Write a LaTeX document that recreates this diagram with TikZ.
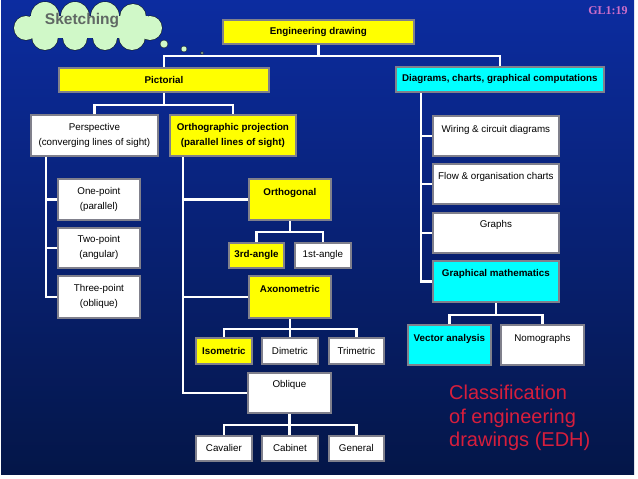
\documentclass[tikz,border=0pt]{standalone}
\usepackage{fontspec}
\setmainfont{Liberation Sans}
\newfontfamily\serifgl{Liberation Serif}
\usetikzlibrary{calc}
\definecolor{bgtop}{RGB}{12,44,160}
\definecolor{bgbot}{RGB}{4,22,72}
\definecolor{boxborder}{RGB}{128,128,140}
\definecolor{ylw}{RGB}{255,255,0}
\definecolor{cyn}{RGB}{0,255,255}
\definecolor{cloudfill}{RGB}{208,248,200}
\definecolor{cloudline}{RGB}{20,30,40}
\definecolor{sktext}{RGB}{96,104,100}
\definecolor{edhred}{RGB}{215,30,60}
\definecolor{glpink}{RGB}{205,110,200}
\pgfdeclarelayer{bg}\pgfdeclarelayer{connlayer}\pgfsetlayers{bg,connlayer,main}
\begin{document}
\begin{tikzpicture}[x=1pt,y=-1pt,
 box/.style={draw=boxborder,line width=1.8pt,anchor=north west,inner sep=0pt,font=\fontsize{9.8}{15}\selectfont,align=center},
 yb/.style={box,fill=ylw,font=\fontsize{9.8}{15}\selectfont\bfseries},
 wb/.style={box,fill=white},
 cb/.style={box,fill=cyn,font=\fontsize{9.8}{15}\selectfont\bfseries},
 sz/.style 2 args={minimum width=#1,minimum height=#2},
 tt/.style 2 args={text height=#1,text depth=#2},
 conn/.style={draw=white,line width=2.5pt},
 bubble/.style={circle,fill=cloudfill,draw=cloudline,line width=0.4pt,inner sep=0pt}]
\useasboundingbox (0,0) rectangle (638,479);
\begin{pgfonlayer}{bg}
\fill[white] (0,0) rectangle (638,479);
\shade[top color=bgtop,bottom color=bgbot] (1,0) rectangle (634,474);
\end{pgfonlayer}

% cloud (union of puffs: outlines first, then fills)
\def\puffs{45/16/14,75/16/14,105/16/14,133/17/13,26/28/12,150/28/12,45/37/13,75/38/12,105/38/12,132/37/13}
\foreach \px/\py/\pr in \puffs {\draw[cloudline,line width=1.1pt] (\px,\py) circle[radius=\pr];}
\foreach \px/\py/\pr in \puffs {\fill[cloudfill] (\px,\py) circle[radius=\pr];}
\fill[cloudfill] (30,16) rectangle (148,38);
\node[font=\fontsize{15.5}{18}\selectfont\bfseries,text=sktext] (sk) at (82,21) {Sketching};
\node[bubble,minimum size=8pt] (b1) at (164,44) {};
\node[bubble,minimum size=6pt] (b2) at (184,49) {};
\node[bubble,minimum size=3pt] (b3) at (202,53) {};

\node[font=\serifgl\bfseries\fontsize{12}{14}\selectfont,text=glpink] (gl) at (608,11) {GL1:19};

% boxes
\node[yb,sz={191pt}{24pt}] (ed) at (222,19) {Engineering drawing};
\node[yb,sz={210pt}{24pt}] (pic) at (58,67) {Pictorial};
\node[cb,sz={208pt}{25pt}] (dia) at (395,66) {Diagrams, charts, graphical computations};
\node[wb,sz={127pt}{41pt}] (persp) at (30,114) {Perspective\\(converging lines of sight)};
\node[yb,sz={126pt}{41pt}] (ortho) at (169,114) {Orthographic projection\\(parallel lines of sight)};
\node[wb,sz={82pt}{41pt}] (one) at (57,178) {One-point\\(parallel)};
\node[wb,sz={82pt}{40pt}] (two) at (57,227) {Two-point\\(angular)};
\node[wb,sz={82pt}{42pt}] (three) at (57,275) {Three-point\\(oblique)};
\node[yb,sz={82pt}{41pt},tt={16.5pt}{24.5pt}] (orthog) at (248,178) {Orthogonal};
\node[yb,sz={82pt}{42pt},tt={16.5pt}{25.5pt}] (axo) at (248,275) {Axonometric};
\node[yb,sz={55pt}{25pt}] (third) at (228,242) {3rd-angle};
\node[wb,sz={56pt}{25pt}] (first) at (294,242) {1st-angle};
\node[yb,sz={56pt}{26pt}] (iso) at (195,337) {Isometric};
\node[wb,sz={56pt}{26pt}] (dim) at (261,337) {Dimetric};
\node[wb,sz={55pt}{26pt}] (tri) at (328,337) {Trimetric};
\node[wb,sz={83pt}{40pt},tt={14.5pt}{25.5pt}] (obl) at (247,372) {Oblique};
\node[wb,sz={56pt}{25pt}] (cav) at (195,435) {Cavalier};
\node[wb,sz={56pt}{25pt}] (cab) at (261,435) {Cabinet};
\node[wb,sz={55pt}{25pt}] (gen) at (328,435) {General};
\node[wb,sz={126pt}{40pt},tt={16.5pt}{23.5pt}] (wir) at (432,115) {Wiring \& circuit diagrams};
\node[wb,sz={126pt}{40pt},tt={15.5pt}{24.5pt}] (flow) at (432,163) {Flow \& organisation charts};
\node[wb,sz={126pt}{40pt},tt={14.5pt}{25.5pt}] (graphs) at (432,212) {Graphs};
\node[cb,sz={126pt}{41pt},tt={15.5pt}{25.5pt}] (gm) at (432,260) {Graphical mathematics};
\node[cb,sz={83pt}{40pt},tt={16.5pt}{23.5pt}] (vec) at (407,324) {Vector analysis};
\node[wb,sz={83pt}{40pt},tt={16.5pt}{23.5pt}] (nomo) at (500,324) {Nomographs};

\node[anchor=north west,inner sep=0pt,align=left,text=edhred,font=\fontsize{20}{23.5}\selectfont] (cls) at (449,385) {Classification\\of engineering\\drawings (EDH)};

% connectors
\begin{pgfonlayer}{connlayer}
\draw[conn] (ed.south) -- ++(0,11);
\draw[conn] (pic.north) |- ($(ed.south)+(0,11)$) -| (dia.north);
\draw[conn] (pic.south) -- ++(0,12);
\draw[conn] (persp.north) |- ($(pic.south)+(0,12)$) -| (ortho.north);
\coordinate (pv) at ($(persp.south west)+(16,0)$);
\draw[conn] (pv) |- (three.west);
\draw[conn] (one.west) -- (one.west -| pv);
\draw[conn] (two.west) -- (two.west -| pv);
\coordinate (ov) at ($(ortho.south west)+(14,0)$);
\draw[conn] (ov) |- (obl.west);
\draw[conn] (orthog.west) -- (orthog.west -| ov);
\draw[conn] (axo.west) -- (axo.west -| ov);
\draw[conn] (orthog.south) -- ++(0,11);
\draw[conn] (third.north) |- ($(orthog.south)+(0,11)$) -| (first.north);
\draw[conn] (axo.south) -- (axo.south |- dim.north);
\draw[conn] (iso.north) |- ($(axo.south)+(0,10)$) -| (tri.north);
\draw[conn] (obl.south) -- (obl.south |- cab.north);
\draw[conn] (cav.north) |- ($(obl.south)+(0,11)$) -| (gen.north);
\coordinate (dv) at ($(dia.south west)+(26,0)$);
\draw[conn] (dv) |- (gm.west);
\draw[conn] (wir.west) -- (wir.west -| dv);
\draw[conn] (flow.west) -- (flow.west -| dv);
\draw[conn] (graphs.west) -- (graphs.west -| dv);
\draw[conn] (gm.south) -- ++(0,12);
\draw[conn] (vec.north) |- ($(gm.south)+(0,12)$) -| (nomo.north);
\end{pgfonlayer}
\end{tikzpicture}
\end{document}
